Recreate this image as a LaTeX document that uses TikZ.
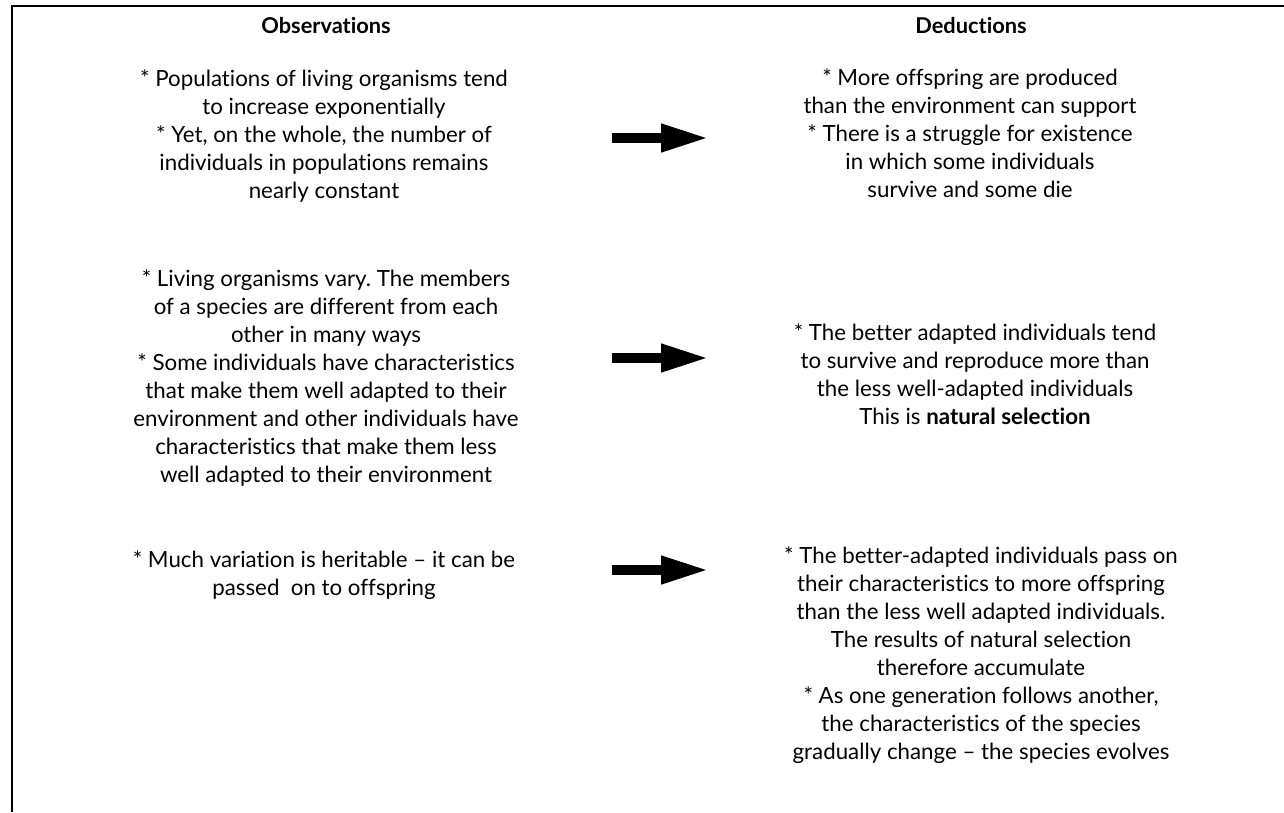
\documentclass[tikz,border=0pt]{standalone}
\usepackage{fontspec}
\setmainfont{Lato}[Ligatures=NoCommon]
\usetikzlibrary{arrows.meta}
\frenchspacing
\begin{document}
\begin{tikzpicture}[x=1pt,y=-1pt,
  txt/.style={align=center,inner sep=0pt,font=\fontsize{22.3}{28}\selectfont},
  head/.style={inner sep=0pt,font=\fontsize{21.8}{28}\selectfont\bfseries},
  bigarrow/.style={line width=10pt,-{Triangle[length=48pt,width=26pt]}}]
\useasboundingbox (0,0) rectangle (1284,812);
% open frame: left and top edges
\draw[line width=2pt] (12,812) -- (12,6) -- (1284,6);
% column headings
\node[head] (hobs) at (326,25) {Observations};
\node[head] (hded) at (971,25) {Deductions};
% row 1
\node[txt] (o1) at (324,136) {* Populations of living organisms tend\\to increase exponentially\\* Yet, on the whole, the number of\\individuals in populations remains\\nearly constant};
\node[txt] (d1) at (970,133) {* More offspring are produced\\than the environment can support\\* There is a struggle for existence\\in which some individuals\\survive and some die};
% row 2
\node[txt] (o2) at (326,378) {* Living organisms vary. The members\\of a species are different from each\\other in many ways\\* Some individuals have characteristics\\that make them well adapted to their\\environment and other individuals have\\characteristics that make them less\\well adapted to their environment};
\node[txt] (d2) at (975,374) {* The better adapted individuals tend\\to survive and reproduce more than\\the less well-adapted individuals\\This is \textbf{natural selection}};
% row 3
\node[txt] (o3) at (324,575) {* Much variation is heritable -- it can be\\passed\ \ on to offspring};
\node[txt] (d3) at (981,655) {* The better-adapted individuals pass on\\their characteristics to more offspring\\than the less well adapted individuals.\\The results of natural selection\\therefore accumulate\\* As one generation follows another,\\the characteristics of the species\\gradually change -- the species evolves};
% arrows
\coordinate (a1s) at (612,138); \coordinate (a1e) at (709,138);
\coordinate (a2s) at (612,358); \coordinate (a2e) at (709,358);
\coordinate (a3s) at (612,570); \coordinate (a3e) at (709,570);
\draw[bigarrow] (a1s) -- (a1e);
\draw[bigarrow] (a2s) -- (a2e);
\draw[bigarrow] (a3s) -- (a3e);
\end{tikzpicture}
\end{document}
